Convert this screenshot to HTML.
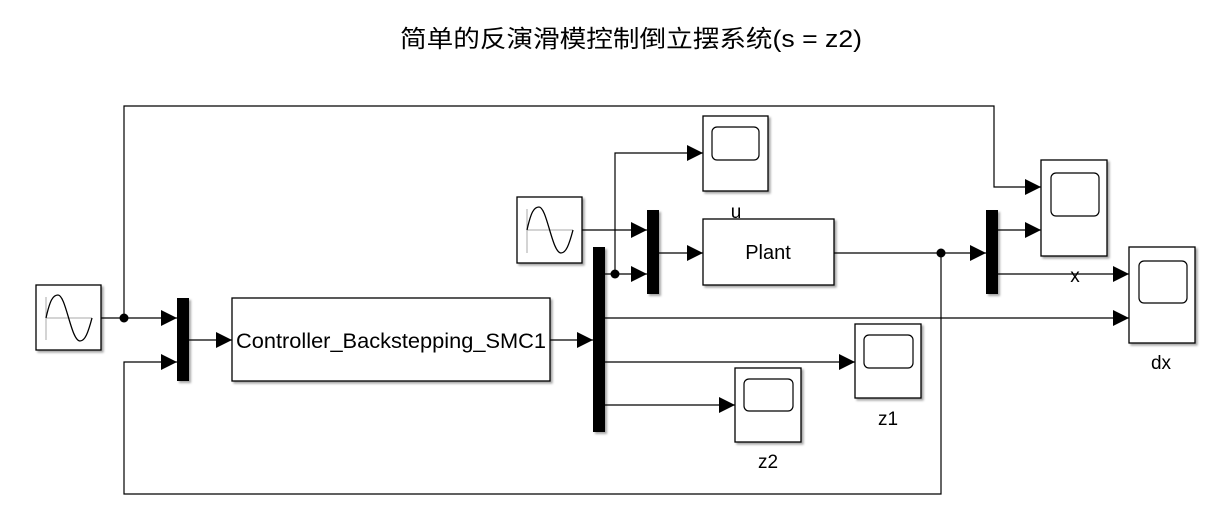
<!DOCTYPE html>
<html><head><meta charset="utf-8"><style>
html,body{margin:0;padding:0;background:#fff;}
svg{display:block;}
text{font-family:"Liberation Sans","Noto Sans CJK SC",sans-serif;fill:#000;}
</style></head><body>
<svg width="1219" height="526" viewBox="0 0 1219 526" xmlns="http://www.w3.org/2000/svg">
<defs>
<marker id="a" viewBox="0 0 10 10" refX="10" refY="5" markerWidth="16" markerHeight="16" markerUnits="userSpaceOnUse" orient="auto"><path d="M0,0 L10,5 L0,10 Z" fill="#000"/></marker>
<filter id="sh" x="-10%" y="-10%" width="130%" height="130%"><feDropShadow dx="2" dy="2" stdDeviation="1" flood-color="#000" flood-opacity="0.35"/></filter>
</defs>
<text x="400" y="47" font-size="24" textLength="462" lengthAdjust="spacingAndGlyphs">简单的反演滑模控制倒立摆系统(s = z2)</text>

<g fill="none" stroke="#000" stroke-width="1.2">
<polyline points="124,318 124,106 994,106 994,187 1041,187" marker-end="url(#a)"/>
<line x1="101" y1="318" x2="177" y2="318" marker-end="url(#a)"/>
<polyline points="941,253 941,494 124,494 124,362 177,362" marker-end="url(#a)"/>
<line x1="189" y1="340" x2="232" y2="340" marker-end="url(#a)"/>
<line x1="550" y1="340" x2="593" y2="340" marker-end="url(#a)"/>
<line x1="605" y1="274" x2="647" y2="274" marker-end="url(#a)"/>
<polyline points="615,274 615,153 703,153" marker-end="url(#a)"/>
<line x1="605" y1="318" x2="1129" y2="318" marker-end="url(#a)"/>
<line x1="605" y1="362" x2="855" y2="362" marker-end="url(#a)"/>
<line x1="605" y1="405" x2="735" y2="405" marker-end="url(#a)"/>
<line x1="582" y1="230" x2="647" y2="230" marker-end="url(#a)"/>
<line x1="659" y1="253" x2="703" y2="253" marker-end="url(#a)"/>
<line x1="834" y1="253" x2="986" y2="253" marker-end="url(#a)"/>
<line x1="998" y1="230" x2="1041" y2="230" marker-end="url(#a)"/>
<line x1="998" y1="274" x2="1129" y2="274" marker-end="url(#a)"/>
</g>
<circle cx="124" cy="318" r="4.5"/>
<circle cx="615" cy="274" r="4.5"/>
<circle cx="941" cy="253" r="4.5"/>

<g filter="url(#sh)">
<rect x="177" y="298" width="12" height="83"/>
<rect x="593" y="247" width="12" height="185"/>
<rect x="647" y="210" width="12" height="84"/>
<rect x="986" y="210" width="12" height="84"/>
</g>

<g fill="#fff" stroke="#000" stroke-width="1.3" filter="url(#sh)">
<rect x="36" y="285" width="65" height="65"/>
<rect x="517" y="197" width="65" height="66"/>
<rect x="232" y="298" width="318" height="83"/>
<rect x="703" y="219" width="131" height="66"/>
<rect x="703" y="116" width="65" height="75"/>
<rect x="1041" y="160" width="66" height="96"/>
<rect x="1129" y="247" width="66" height="96"/>
<rect x="855" y="324" width="66" height="74"/>
<rect x="735" y="368" width="66" height="74"/>
</g>
<g fill="none" stroke="#000" stroke-width="1.2">
<rect x="712" y="127" width="47" height="33" rx="5"/>
<rect x="1051" y="173" width="48" height="43" rx="5"/>
<rect x="1139" y="261" width="48" height="42" rx="5"/>
<rect x="864" y="335" width="49" height="33" rx="5"/>
<rect x="744" y="379" width="49" height="32" rx="5"/>
</g>
<g fill="none">
<path d="M46,297 V340 M46,318 H92" stroke="#aaa" stroke-width="1"/>
<path d="M46,318 C50,300 53,295 58,295 C66,295 71,341 80,341 C85,341 88,333 92,318" stroke="#000" stroke-width="1.3"/>
<path d="M527,209 V253 M527,230 H573" stroke="#aaa" stroke-width="1"/>
<path d="M527,230 C531,212 534,207 539,207 C547,207 552,253 561,253 C566,253 569,245 573,230" stroke="#000" stroke-width="1.3"/>
</g>

<text x="236" y="348" font-size="21" textLength="310" lengthAdjust="spacingAndGlyphs">Controller_Backstepping_SMC1</text>
<text x="768" y="259" font-size="20" text-anchor="middle">Plant</text>
<text x="736" y="218" font-size="19" text-anchor="middle">u</text>
<text x="1075" y="282" font-size="19" text-anchor="middle">x</text>
<text x="1161" y="369" font-size="19" text-anchor="middle">dx</text>
<text x="888" y="425" font-size="19" text-anchor="middle">z1</text>
<text x="768" y="468" font-size="19" text-anchor="middle">z2</text>
</svg>
</body></html>
